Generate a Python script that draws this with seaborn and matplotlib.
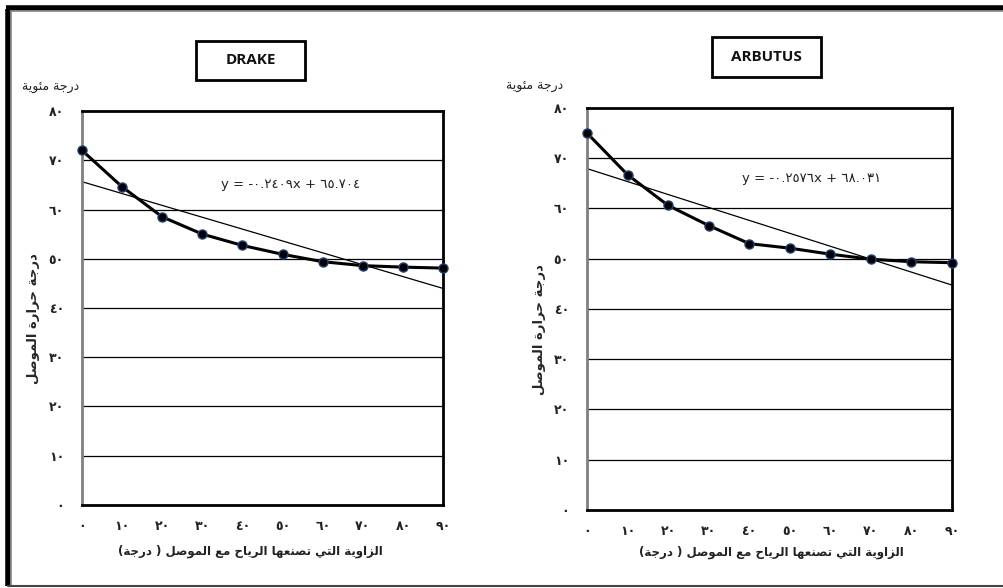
import numpy as np
import pandas as pd
import seaborn as sns
import matplotlib.pyplot as plt
from matplotlib.lines import Line2D
from matplotlib.patches import Rectangle

# data
angles = [0, 10, 20, 30, 40, 50, 60, 70, 80, 90]
drake_temp = [72.0, 64.6, 58.5, 55.0, 52.7, 50.9, 49.4, 48.6, 48.3, 48.1]
arbutus_temp = [75.0, 66.7, 60.6, 56.6, 53.0, 52.1, 50.9, 49.9, 49.4, 49.2]
titles = ["DRAKE", "ARBUTUS"]
equations = ["y = -٠.٢٤٠٩x + ٦٥.٧٠٤", "y = -٠.٢٥٧٦x + ٦٨.٠٣١"]
y_ticks = [0, 10, 20, 30, 40, 50, 60, 70, 80]
x_ticks = angles
unit_label = "درجة مئوية"
y_label = "درجة حرارة الموصل"
x_label = "الزاوية التي تصنعها الرياح مع الموصل ( درجة)"

sns.set_style("white")
plt.rcParams['font.family'] = ['DejaVu Sans']

# small arabic shaper: (isolated, final, initial, medial)
FORMS = {
    'ا': (0xFE8D, 0xFE8E, None, None), 'ة': (0xFE93, 0xFE94, None, None),
    'ت': (0xFE95, 0xFE96, 0xFE97, 0xFE98), 'ج': (0xFE9D, 0xFE9E, 0xFE9F, 0xFEA0),
    'ح': (0xFEA1, 0xFEA2, 0xFEA3, 0xFEA4), 'د': (0xFEA9, 0xFEAA, None, None),
    'ر': (0xFEAD, 0xFEAE, None, None), 'ز': (0xFEAF, 0xFEB0, None, None),
    'ص': (0xFEB9, 0xFEBA, 0xFEBB, 0xFEBC), 'ع': (0xFEC9, 0xFECA, 0xFECB, 0xFECC),
    'ل': (0xFEDD, 0xFEDE, 0xFEDF, 0xFEE0), 'م': (0xFEE1, 0xFEE2, 0xFEE3, 0xFEE4),
    'ن': (0xFEE5, 0xFEE6, 0xFEE7, 0xFEE8), 'ه': (0xFEE9, 0xFEEA, 0xFEEB, 0xFEEC),
    'و': (0xFEED, 0xFEEE, None, None), 'ي': (0xFEF1, 0xFEF2, 0xFEF3, 0xFEF4),
    'ئ': (0xFE89, 0xFE8A, 0xFE8B, 0xFE8C),
}


def shape(text):
    out = []
    for i, ch in enumerate(text):
        if ch not in FORMS:
            out.append(ch)
            continue
        prev = text[i - 1] if i > 0 else ''
        nxt = text[i + 1] if i + 1 < len(text) else ''
        join_prev = prev in FORMS and FORMS[prev][2] is not None
        join_next = nxt in FORMS and FORMS[ch][2] is not None
        iso, fin, ini, med = FORMS[ch]
        if join_prev and join_next:
            code = med
        elif join_prev:
            code = fin
        elif join_next:
            code = ini
        else:
            code = iso
        out.append(chr(code))
    vis = ''.join(reversed(out))
    return vis.translate(str.maketrans('()', ')('))


def ar_digits(n):
    return str(n).translate(str.maketrans('0123456789', '٠١٢٣٤٥٦٧٨٩'))


fig = plt.figure(figsize=(10.04, 5.88), dpi=100)

# frame of the chart area
tf = fig.transFigure
fig.add_artist(Line2D([0.0075, 0.0075], [0.003, 0.984], color='black', lw=4, transform=tf, solid_capstyle='butt'))
fig.add_artist(Line2D([0.0055, 1.0], [0.9865, 0.9865], color='black', lw=4, transform=tf, solid_capstyle='butt'))
fig.add_artist(Line2D([0.0105, 1.0], [0.981, 0.981], color='#888888', lw=1.2, transform=tf))
fig.add_artist(Line2D([0.0105, 0.0105], [0.005, 0.981], color='#888888', lw=1.2, transform=tf))
fig.add_artist(Line2D([0.008, 1.0], [0.004, 0.004], color='#444444', lw=1.5, transform=tf))

panels = [
    dict(rect=[0.0817, 0.1412, 0.3596, 0.6700], temp=drake_temp, box=(196, 41, 109, 39),
         eq_xy=(0.289, 0.686), unit_xy=(0.050, 0.851), ylab_xy=(0.033, 0.459), xlab_xy=(0.249, 0.063)),
    dict(rect=[0.5847, 0.1327, 0.3635, 0.6837], temp=arbutus_temp, box=(712, 37, 109, 40),
         eq_xy=(0.808, 0.697), unit_xy=(0.532, 0.853), ylab_xy=(0.537, 0.439), xlab_xy=(0.768, 0.061)),
]

for i, p in enumerate(panels):
    ax = fig.add_axes(p['rect'])
    df = pd.DataFrame({'angle': angles, 'temp': p['temp']})
    sns.regplot(data=df, x='angle', y='temp', ax=ax, ci=None, scatter=False,
                line_kws=dict(color='black', lw=0.9))
    sns.lineplot(data=df, x='angle', y='temp', ax=ax, color='black', lw=2.2,
                 marker='o', markersize=6.5, markerfacecolor='black',
                 markeredgecolor='#1f3f7a', markeredgewidth=1.0, clip_on=False, zorder=5)
    ax.set_xlim(0, 90)
    ax.set_ylim(0, 80)
    ax.set_yticks(y_ticks)
    ax.set_xticks(x_ticks)
    ax.set_yticklabels([ar_digits(v) for v in y_ticks], fontsize=9, fontweight='bold', color='#222222')
    ax.set_xticklabels([ar_digits(v) for v in x_ticks], fontsize=9, fontweight='bold', color='#222222')
    for y in y_ticks[1:-1]:
        ax.axhline(y, color='black', lw=0.9, zorder=0)
    for side in ['top', 'right', 'bottom']:
        ax.spines[side].set_color('black')
        ax.spines[side].set_linewidth(2)
    ax.spines['left'].set_color('#808080')
    ax.spines['left'].set_linewidth(2)
    ax.tick_params(axis='y', direction='out', length=4, width=1.5, color='#808080', pad=9)
    ax.tick_params(axis='x', direction='out', length=5, width=2, color='black', pad=6)
    ax.set_xlabel('')
    ax.set_ylabel('')
    fig.text(p['xlab_xy'][0], p['xlab_xy'][1], shape(x_label), ha='center', va='center',
             fontsize=8.5, fontweight='bold', color='#222222')
    fig.text(p['ylab_xy'][0], p['ylab_xy'][1], shape(y_label), rotation=90,
             ha='center', va='center', fontsize=9.5, fontweight='bold')
    fig.text(p['unit_xy'][0], p['unit_xy'][1], shape(unit_label), ha='center', va='center',
             fontsize=9, color='#222222')
    fig.text(p['eq_xy'][0], p['eq_xy'][1], equations[i], ha='center', va='center',
             fontsize=9.5, color='#222222')
    bx, by, bw, bh = p['box']
    fig.add_artist(Rectangle((bx / 1004, 1 - (by + bh) / 588), bw / 1004, bh / 588,
                             transform=tf, facecolor='white', edgecolor='black', lw=2))
    fig.text((bx + bw / 2) / 1004, 1 - (by + bh / 2) / 588, titles[i], ha='center', va='center',
             fontsize=11, fontweight='bold', family='Open Sans', color='#111111')

fig.savefig('out.png', dpi=100)
